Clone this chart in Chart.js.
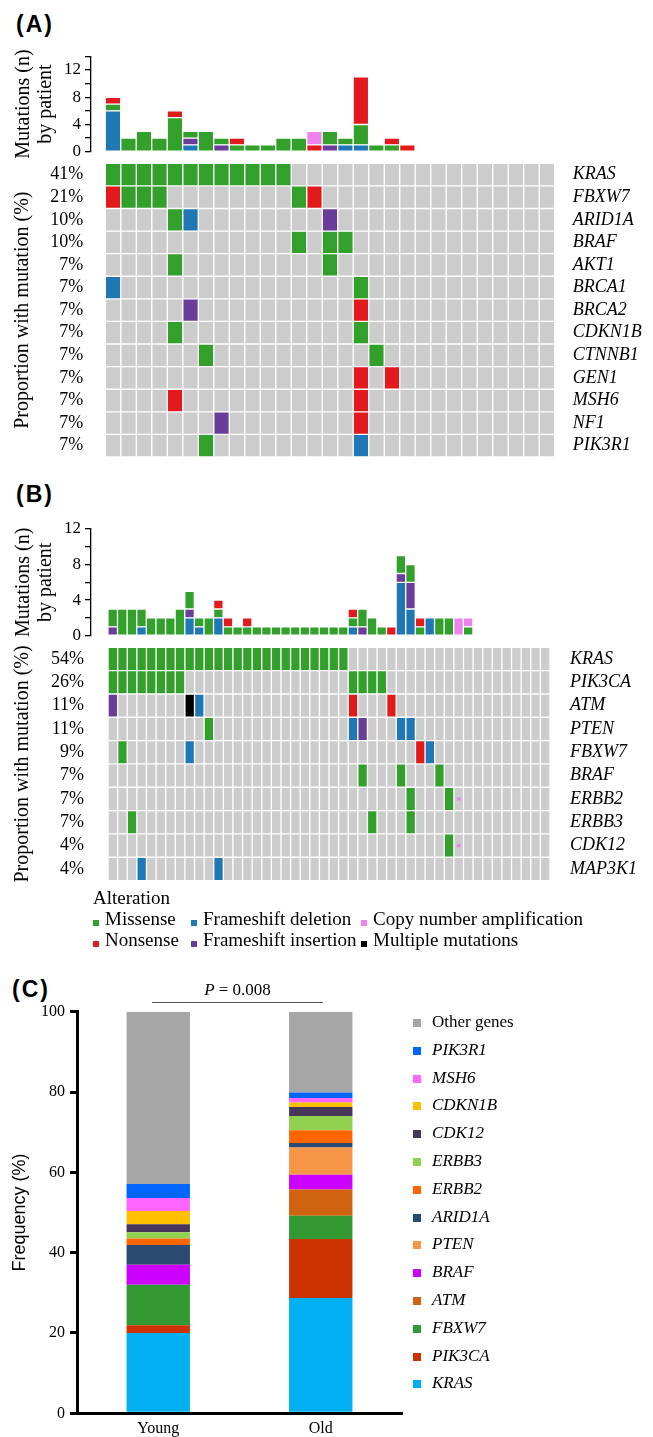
<!DOCTYPE html>
<html>
<head>
<meta charset="utf-8">
<title>Mutation landscape, young vs old</title>
<script src="https://cdn.jsdelivr.net/npm/chart.js@4.4.1/dist/chart.umd.min.js"></script>
<style>
  html, body { margin: 0; padding: 0; background: #fff; }
  body { position: relative; width: 653px; height: 1437px; overflow: hidden;
         font-family: "Liberation Serif", "Times New Roman", serif; color: #000; }
  .abs { position: absolute; }
  .tag { position: absolute; font: bold 23px "Liberation Sans", Arial, sans-serif; letter-spacing: 2px; }
  canvas { display: block; }
  #altLegend { left: 93px; top: 887px; font-size: 19px; line-height: 21px; }
  #altLegend .rows { display: grid; grid-template-columns: 98px 170px auto; }
  #altLegend .sw { display: inline-block; width: 6px; height: 6px; margin-right: 6px; vertical-align: -1px; }
  #genLegend { left: 413px; top: 1008px; font-size: 17px; line-height: 27.8px; }
  #genLegend .sw { display: inline-block; width: 8px; height: 8px; margin-right: 11px; vertical-align: 0; }
  #genLegend i { font-style: italic; }
</style>
</head>
<body>
<div class="tag" style="left:16px;top:11px">(A)</div>
<div class="abs" style="left:0;top:40px"><canvas id="aBar" width="653" height="128"></canvas></div>
<div class="abs" style="left:0;top:151px"><canvas id="aHeat" width="653" height="318"></canvas></div>
<div class="tag" style="left:16px;top:481px">(B)</div>
<div class="abs" style="left:0;top:513px"><canvas id="bBar" width="653" height="139"></canvas></div>
<div class="abs" style="left:0;top:635px"><canvas id="bHeat" width="653" height="258"></canvas></div>
<div id="altLegend" class="abs"></div>
<div class="tag" style="left:12px;top:976px">(C)</div>
<div class="abs" style="left:0;top:960px"><canvas id="cBar" width="653" height="477"></canvas></div>
<div class="abs" style="left:152px;top:980px;width:171px;text-align:center;font-size:17px"><i>P</i> = 0.008</div>
<div class="abs" style="left:152px;top:1002px;width:171px;border-top:1.5px solid #555"></div>
<div id="genLegend" class="abs"></div>

<script>
// alteration types
const altCodes = ['M', 'N', 'D', 'I', 'A', 'X'];
const altNames = ['Missense', 'Nonsense', 'Frameshift deletion', 'Frameshift insertion',
                  'Copy number amplification', 'Multiple mutations'];
const altColors = ['#33a02c', '#e31a1c', '#1f78b4', '#6a3d9a', '#ee82ee', '#000000'];
const gray = '#cccccc';

// (A) young patients
const aGenes = ['KRAS', 'FBXW7', 'ARID1A', 'BRAF', 'AKT1', 'BRCA1', 'BRCA2', 'CDKN1B',
                'CTNNB1', 'GEN1', 'MSH6', 'NF1', 'PIK3R1'];
const aPct = ['41%', '21%', '10%', '10%', '7%', '7%', '7%', '7%', '7%', '7%', '7%', '7%', '7%'];
// one letter per patient (codes above, '.' = none)
const aCells = [
  'MMMMMMMMMM MM........ .........',
  'NMMM...... ..MN...... .........',
  '....MD.... ....I..... .........',
  '.......... ..M.MM.... .........',
  '....M..... ....M..... .........',
  'D......... ......M... .........',
  '.....I.... ......N... .........',
  '....M..... ......M... .........',
  '......M... .......M.. .........',
  '.......... ......N.N. .........',
  '....N..... ......N... .........',
  '.......I.. ......N... .........',
  '......M... ......D... .........'
];
// mutations per patient, by type
const aMis = [1, 2, 3, 2, 5, 1, 3, 1, 1, 1, 1, 2, 2, 0, 2, 1, 3, 1, 1, 0, 0, 0, 0, 0, 0, 0, 0, 0, 0];
const aNon = [1, 0, 0, 0, 1, 0, 0, 0, 1, 0, 0, 0, 0, 1, 0, 0, 7, 0, 1, 1, 0, 0, 0, 0, 0, 0, 0, 0, 0];
const aDel = [6, 0, 0, 0, 0, 1, 0, 0, 0, 0, 0, 0, 0, 0, 0, 1, 1, 0, 0, 0, 0, 0, 0, 0, 0, 0, 0, 0, 0];
const aIns = [0, 0, 0, 0, 0, 1, 0, 1, 0, 0, 0, 0, 0, 0, 1, 0, 0, 0, 0, 0, 0, 0, 0, 0, 0, 0, 0, 0, 0];
const aAmp = [0, 0, 0, 0, 0, 0, 0, 0, 0, 0, 0, 0, 0, 2, 0, 0, 0, 0, 0, 0, 0, 0, 0, 0, 0, 0, 0, 0, 0];

// (B) old patients
const bGenes = ['KRAS', 'PIK3CA', 'ATM', 'PTEN', 'FBXW7', 'BRAF', 'ERBB2', 'ERBB3', 'CDK12', 'MAP3K1'];
const bPct = ['54%', '26%', '11%', '11%', '9%', '7%', '7%', '7%', '4%', '4%'];
const bCells = [
  'MMMMMMMMMM MMMMMMMMMM MMMMM..... .......... ......',
  'MMMMMMMM.. .......... .....MMMM. .......... ......',
  'I.......XD .......... .....N...N .......... ......',
  '.......... M......... .....DI... DD........ ......',
  '.M......D. .......... .......... ..ND...... ......',
  '.......... .......... ......M... M...M..... ......',
  '.......... .......... .......... .M...MA... ......',
  '..M....... .......... .......M.. .M........ ......',
  '.......... .......... .......... .....MA... ......',
  '...D...... .D........ .......... .......... ......'
];
const bMis = [2, 3, 3, 2, 2, 2, 2, 3, 2, 1, 2, 1, 1, 1, 1, 1, 1, 1, 1, 1, 1, 1, 1, 1, 1, 1, 2, 2, 1, 0,
              2, 2, 1, 0, 2, 2, 0, 1, 0, 0, 0, 0, 0, 0, 0, 0];
const bNon = [0, 0, 0, 0, 0, 0, 0, 0, 0, 0, 0, 1, 1, 0, 1, 0, 0, 0, 0, 0, 0, 0, 0, 0, 0, 1, 0, 0, 0, 1,
              0, 0, 1, 0, 0, 0, 0, 0, 0, 0, 0, 0, 0, 0, 0, 0];
const bDel = [0, 0, 0, 1, 0, 0, 0, 0, 2, 1, 0, 2, 0, 0, 0, 0, 0, 0, 0, 0, 0, 0, 0, 0, 0, 1, 0, 0, 0, 0,
              6, 3, 0, 2, 0, 0, 0, 0, 0, 0, 0, 0, 0, 0, 0, 0];
const bIns = [1, 0, 0, 0, 0, 0, 0, 0, 1, 0, 0, 0, 0, 0, 0, 0, 0, 0, 0, 0, 0, 0, 0, 0, 0, 0, 1, 0, 0, 0,
              1, 3, 0, 0, 0, 0, 0, 0, 0, 0, 0, 0, 0, 0, 0, 0];
const bAmp = [0, 0, 0, 0, 0, 0, 0, 0, 0, 0, 0, 0, 0, 0, 0, 0, 0, 0, 0, 0, 0, 0, 0, 0, 0, 0, 0, 0, 0, 0,
              0, 0, 0, 0, 0, 0, 2, 1, 0, 0, 0, 0, 0, 0, 0, 0];

// (C) frequency of mutated genes, stacked bottom to top
const cGroups = ['Young', 'Old'];
const cGenes = ['KRAS', 'PIK3CA', 'FBXW7', 'ATM', 'BRAF', 'PTEN', 'ARID1A', 'ERBB2', 'ERBB3',
                'CDK12', 'CDKN1B', 'MSH6', 'PIK3R1', 'Other genes'];
const cYoung = [20.0, 1.9, 10.1, 0, 5.0, 0, 4.9, 1.6, 1.6, 2.0, 3.3, 3.2, 3.5, 42.9];
const cOld = [28.7, 14.7, 5.8, 6.5, 3.7, 6.8, 1.1, 3.2, 3.5, 2.3, 1.1, 1.1, 1.4, 20.1];
const cColors = ['#00b0f0', '#cc3300', '#339933', '#d0630f', '#cc00ff', '#f79646', '#2b4a70',
                 '#ff6600', '#92d050', '#46365a', '#ffc000', '#ff66ff', '#0066ff', '#a6a6a6'];

const serif = "'Liberation Serif', 'Times New Roman', serif";
const sans = "'Liberation Sans', Arial, sans-serif";
Chart.defaults.font.family = serif;
Chart.defaults.color = '#000';

const base = {
  responsive: false,
  animation: false,
  devicePixelRatio: 1,
  plugins: { legend: { display: false }, tooltip: { enabled: false } }
};

function positions(n) {
  const out = [];
  for (let i = 0; i < n; i++) out.push(i);
  return out;
}

// bottom to top: deletion, insertion, missense, nonsense, amplification
function barChart(id, byType, yMax, L) {
  const colW = (L.colRight - L.colLeft) / L.n;
  const pos = positions(L.n);
  const order = [2, 3, 0, 1, 4];
  const datasets = order.map(k => ({
    data: byType[k].map((v, i) => ({ x: i, y: v || null })),
    backgroundColor: altColors[k],
    borderColor: '#ffffff',
    borderWidth: 1,
    borderSkipped: false,
    categoryPercentage: 1,
    barPercentage: 1
  }));
  const ticks = [];
  for (let v = 0; v <= yMax; v += 2) ticks.push(v);
  return new Chart(document.getElementById(id), {
    type: 'bar',
    data: { datasets },
    options: Object.assign({}, base, {
      layout: { padding: { left: 0, right: 653 - L.colRight, top: L.top, bottom: L.bottom } },
      scales: {
        x: {
          type: 'linear', display: false, stacked: true,
          min: -0.5 - (L.colLeft - L.axisX) / colW, max: L.n - 0.5,
          afterBuildTicks: s => { s.ticks = pos.map(v => ({ value: v })); }
        },
        y: {
          stacked: true, min: 0, max: yMax,
          afterBuildTicks: s => { s.ticks = ticks.map(v => ({ value: v })); },
          ticks: { callback: v => (v % 4 === 0 ? v : ''), font: { size: 17 }, padding: 4, autoSkip: false },
          grid: { drawOnChartArea: false, tickLength: 6, color: '#000', lineWidth: 1.3 },
          border: { color: '#000', width: 1.3 },
          title: { display: true, text: ['Mutations (n)', 'by patient'],
                   font: { size: 20, lineHeight: 1.1 }, padding: { top: 13 } },
          afterFit: s => { s.width = L.axisX; }
        }
      }
    })
  });
}

function heatChart(id, genes, pct, cells, L) {
  const pos = positions(L.n);
  const grid = cells.map(row => row.replace(/ /g, '').split(''));
  const datasets = genes.map((g, r) => ({
    order: 1,
    data: pos.map(p => ({ x: p, y: [r - 0.5, r + 0.5] })),
    backgroundColor: grid[r].map(c => (c === '.' || c === 'A') ? gray : altColors[altCodes.indexOf(c)]),
    borderColor: '#ffffff',
    borderWidth: 1,
    borderSkipped: false,
    grouped: false,
    categoryPercentage: 1,
    barPercentage: 1
  }));
  // copy number amplification: small mark inside a grey cell
  grid.forEach((row, r) => row.forEach((c, p) => {
    if (c !== 'A') return;
    datasets.push({
      order: 0,
      data: [{ x: p, y: [r - 0.07, r + 0.07] }],
      backgroundColor: altColors[4],
      borderWidth: 0,
      grouped: false,
      categoryPercentage: 1,
      barPercentage: 0.4
    });
  }));
  const rowTicks = s => { s.ticks = genes.map((_, i) => ({ value: i })); };
  const side = {
    type: 'linear', reverse: true, min: -0.5, max: genes.length - 0.5,
    afterBuildTicks: rowTicks,
    border: { display: false }
  };
  return new Chart(document.getElementById(id), {
    type: 'bar',
    data: { datasets },
    options: Object.assign({}, base, {
      layout: { padding: { left: 0, right: 0, top: L.top, bottom: L.bottom } },
      scales: {
        x: {
          type: 'linear', display: false, min: -0.5, max: L.n - 0.5,
          afterBuildTicks: s => { s.ticks = pos.map(v => ({ value: v })); }
        },
        y: Object.assign({}, side, {
          position: 'left',
          grid: { display: false, drawTicks: true, tickLength: 14 },
          ticks: { callback: v => pct[v], font: { size: 18 }, padding: 0, autoSkip: false },
          title: { display: true, text: 'Proportion with mutation (%)', font: { size: 20, lineHeight: 1.1 },
                   padding: { top: 12 } },
          afterFit: s => { s.width = L.colLeft; }
        }),
        g: Object.assign({}, side, {
          position: 'right',
          grid: { display: false, drawTicks: true, tickLength: 10 },
          ticks: { callback: v => genes[v], font: { size: 18, style: 'italic' }, padding: 0, autoSkip: false },
          afterFit: s => { s.width = 653 - L.colRight; }
        })
      }
    })
  });
}

barChart('aBar', [aMis, aNon, aDel, aIns, aAmp], 14,
         { n: 29, axisX: 91, colLeft: 97.3, colRight: 562.7, top: 16.4, bottom: 16.3 });
heatChart('aHeat', aGenes, aPct, aCells,
          { n: 29, colLeft: 97.3, colRight: 562.7, top: 12.3, bottom: 12 });
barChart('bBar', [bMis, bNon, bDel, bIns, bAmp], 12,
         { n: 46, axisX: 91, colLeft: 98, colRight: 560, top: 16, bottom: 16.3 });
heatChart('bHeat', bGenes, bPct, bCells,
          { n: 46, colLeft: 98, colRight: 560, top: 12.3, bottom: 12.4 });

// legend for the oncoprints
const legendOrder = [0, 2, 4, 1, 3, 5];
const alt = document.getElementById('altLegend');
alt.innerHTML = '<div>Alteration</div><div class="rows">' +
  legendOrder.map(k => '<div><span class="sw" style="background:' + altColors[k] + '"></span>' +
                       altNames[k] + '</div>').join('') + '</div>';

// (C)
new Chart(document.getElementById('cBar'), {
  type: 'bar',
  data: {
    labels: cGroups,
    datasets: cGenes.map((g, i) => ({
      label: g,
      data: [cYoung[i], cOld[i]],
      backgroundColor: cColors[i],
      borderWidth: 0,
      categoryPercentage: 1,
      barPercentage: 0.39
    }))
  },
  options: Object.assign({}, base, {
    layout: { padding: { left: 0, right: 251, top: 51.7, bottom: 0 } },
    scales: {
      x: {
        stacked: true,
        grid: { display: false, drawTicks: false },
        border: { color: '#000', width: 3 },
        ticks: { font: { size: 16 }, padding: 6 },
        afterFit: s => { s.height = 23.7; }
      },
      y: {
        stacked: true, min: 0, max: 100,
        ticks: { stepSize: 20, font: { size: 16 }, padding: 5 },
        grid: { drawOnChartArea: false, tickLength: 7, color: '#000', lineWidth: 3 },
        border: { color: '#000', width: 3 },
        title: { display: true, text: 'Frequency (%)', font: { family: sans, size: 18, lineHeight: 1.1 },
                 padding: { top: 10 } },
        afterFit: s => { s.width = 77; }
      }
    }
  })
});

const gl = document.getElementById('genLegend');
gl.innerHTML = cGenes.map((g, i) => ({ g, c: cColors[i] })).reverse().map(o =>
  '<div><span class="sw" style="background:' + o.c + '"></span>' +
  (o.g === 'Other genes' ? o.g : '<i>' + o.g + '</i>') + '</div>').join('');
</script>
</body>
</html>
